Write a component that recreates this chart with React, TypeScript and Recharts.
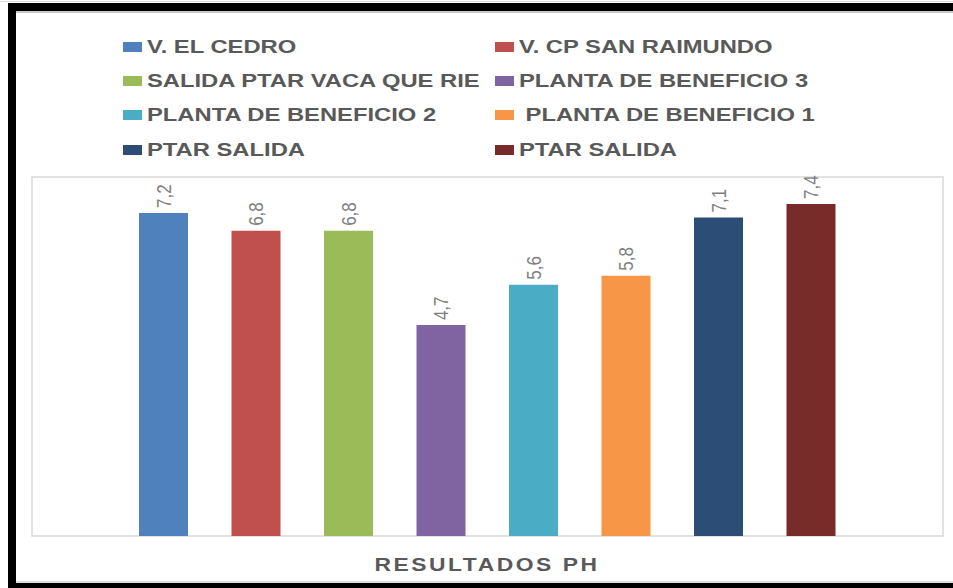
import React from 'react';
import { BarChart, Bar, XAxis, YAxis, ReferenceArea, LabelList } from 'recharts';

const seriesNames = [
  'V. EL CEDRO',
  'V. CP SAN RAIMUNDO',
  'SALIDA PTAR VACA QUE RIE',
  'PLANTA DE BENEFICIO 3',
  'PLANTA DE BENEFICIO 2',
  ' PLANTA DE BENEFICIO 1',
  'PTAR SALIDA',
  'PTAR SALIDA',
];
const seriesValues = [7.2, 6.8, 6.8, 4.7, 5.6, 5.8, 7.1, 7.4];
const seriesColors = ['#4F81BD', '#C0504D', '#9BBB59', '#8064A2', '#4BACC6', '#F79646', '#2C4D75', '#772C2A'];
const categories = ['RESULTADOS PH'];

const seriesKeys = seriesNames.map((_, i) => `s${i}`);
const data = categories.map((cat) => {
  const row: Record<string, string | number> = { name: cat };
  seriesKeys.forEach((k, i) => (row[k] = seriesValues[i]));
  return row;
});

const fmt = (v: number) => String(v).replace('.', ',');

// value labels, rotated and a bit wider like the stretched screenshot
const renderLabel = (props: any) => {
  const { x, y, width, value } = props;
  const cx = Number(x) + Number(width) / 2;
  const ty = Number(y) - 5;
  return (
    <text
      x={0}
      y={0}
      transform={`translate(${cx} ${ty}) scale(1.2 1) rotate(-90)`}
      textAnchor="start"
      dominantBaseline="central"
      fill="#7f7f7f"
      fontSize={17}
      fontFamily="Liberation Sans"
    >
      {fmt(Number(value))}
    </text>
  );
};

const legendCols = [123, 495];
const legendRows = [47, 81, 115, 150];

const textStyle: React.CSSProperties = {
  fontFamily: '"Liberation Sans", Arial, sans-serif',
  fontWeight: 'bold',
  fontSize: 18,
  color: '#595959',
  whiteSpace: 'pre',
  display: 'inline-block',
  transform: 'scaleX(1.32)',
  transformOrigin: 'left center',
  lineHeight: '20px',
};

const CustomLegend = () => (
  <div style={{ position: 'absolute', left: 0, top: 0, width: 953, height: 170 }}>
    {seriesNames.map((name, i) => {
      const left = legendCols[i % 2];
      const top = legendRows[Math.floor(i / 2)];
      return (
        <div key={i} style={{ position: 'absolute', left, top: top - 10, height: 20, display: 'flex', alignItems: 'center' }}>
          <span style={{ width: 19, height: 10, background: seriesColors[i], display: 'inline-block', marginRight: 5 }} />
          <span style={textStyle}>{name}</span>
        </div>
      );
    })}
  </div>
);

const App = () => {
  return (
    <div style={{ position: 'absolute', left: 0, top: 0, width: 953, height: 588, background: '#fff', overflow: 'hidden' }}>
      <div style={{ position: 'absolute', left: 0, top: 1, width: 953, height: 1, background: '#d9d9d9' }} />
      <div style={{ position: 'absolute', left: 8, top: 3, width: 945, height: 8, background: '#000' }} />
      <div style={{ position: 'absolute', left: 16, top: 11, width: 937, height: 2, background: '#c8c8c8' }} />
      <div style={{ position: 'absolute', left: 8, top: 3, width: 8, height: 585, background: '#000' }} />
      <div style={{ position: 'absolute', left: 16, top: 581, width: 937, height: 2, background: '#e0e0e0' }} />
      <div style={{ position: 'absolute', left: 8, top: 583, width: 945, height: 5, background: '#000' }} />

      <div style={{ position: 'absolute', left: 0, top: 0 }}>
        <BarChart
          width={953}
          height={588}
          data={data}
          margin={{ top: 177, right: 10, left: 32, bottom: 52 }}
          barSize={49}
          barGap={43.5}
        >
          <XAxis dataKey="name" hide />
          <YAxis hide domain={[0, 8]} />
          <ReferenceArea y1={0} y2={8} fill="none" stroke="#d9d9d9" strokeWidth={1.5} ifOverflow="visible" />
          {seriesKeys.map((k, i) => (
            <Bar key={k} dataKey={k} name={seriesNames[i]} fill={seriesColors[i]} isAnimationActive={false}>
              <LabelList dataKey={k} content={renderLabel} />
            </Bar>
          ))}
        </BarChart>
      </div>

      <CustomLegend />

      <div
        style={{
          position: 'absolute',
          left: 487,
          top: 565,
          transform: 'translate(-50%, -50%) scaleX(1.27)',
          fontFamily: '"Liberation Sans", Arial, sans-serif',
          fontWeight: 'bold',
          fontSize: 18,
          letterSpacing: 2,
          color: '#595959',
          whiteSpace: 'pre',
        }}
      >
        {categories[0]}
      </div>
    </div>
  );
};

export default App;
